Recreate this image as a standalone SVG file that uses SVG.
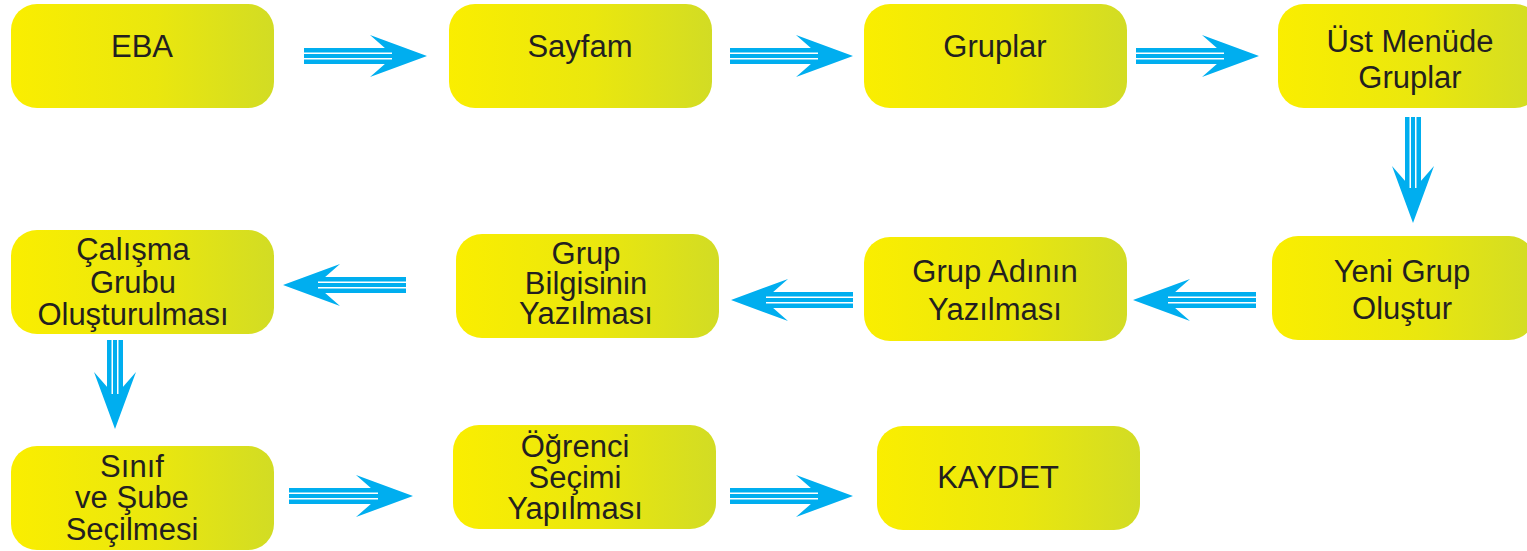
<svg xmlns="http://www.w3.org/2000/svg" xmlns:xlink="http://www.w3.org/1999/xlink" width="1527" height="551" viewBox="0 0 1527 551">
<defs>
<linearGradient id="yg" x1="0" y1="0" x2="1" y2="0">
<stop offset="0" stop-color="#FAEE00"/>
<stop offset="0.55" stop-color="#EAE70E"/>
<stop offset="1" stop-color="#D2DC24"/>
</linearGradient>
<path id="head" d="M0,0 L-57,-21 L-33,0 L-57,21 Z"/>
<style>
.box{fill:url(#yg);}
.t{font-family:"Liberation Sans",Arial,Helvetica,sans-serif;font-size:31px;fill:#231F20;text-anchor:middle;}
.arrow{fill:#00AEEF;}
.gap{stroke:#FFFFFF;stroke-width:1.5;fill:none;}
</style>
</defs>
<rect width="1527" height="551" fill="#FFFFFF"/>

<g id="n-eba"><rect class="box" x="11" y="4" width="263" height="104" rx="26"/><text class="t" x="142" y="57">EBA</text></g>
<g id="n-sayfam"><rect class="box" x="449" y="4" width="263" height="104" rx="26"/><text class="t" x="580" y="57">Sayfam</text></g>
<g id="n-gruplar"><rect class="box" x="864" y="4" width="263" height="104" rx="26"/><text class="t" x="995" y="57">Gruplar</text></g>
<g id="n-ust"><rect class="box" x="1278" y="4" width="263" height="104" rx="26"/><text class="t" x="1410" y="52">Üst Menüde</text><text class="t" x="1410" y="88">Gruplar</text></g>

<g id="n-yeni"><rect class="box" x="1272" y="236" width="263" height="104" rx="26"/><text class="t" x="1402" y="282">Yeni Grup</text><text class="t" x="1402" y="319">Oluştur</text></g>
<g id="n-adi"><rect class="box" x="864" y="237" width="263" height="104" rx="26"/><text class="t" x="995" y="282">Grup Adının</text><text class="t" x="995" y="320">Yazılması</text></g>
<g id="n-bilgi"><rect class="box" x="456" y="234" width="263" height="104" rx="26"/><text class="t" x="586" y="264">Grup</text><text class="t" x="586" y="294">Bilgisinin</text><text class="t" x="586" y="324">Yazılması</text></g>
<g id="n-calisma"><rect class="box" x="11" y="230" width="263" height="104" rx="26"/><text class="t" x="133" y="260">Çalışma</text><text class="t" x="133" y="293">Grubu</text><text class="t" x="133" y="325">Oluşturulması</text></g>

<g id="n-sinif"><rect class="box" x="11" y="446" width="263" height="104" rx="26"/><text class="t" x="132" y="477">Sınıf</text><text class="t" x="132" y="508">ve Şube</text><text class="t" x="132" y="540">Seçilmesi</text></g>
<g id="n-ogrenci"><rect class="box" x="453" y="425" width="263" height="104" rx="26"/><text class="t" x="575" y="457">Öğrenci</text><text class="t" x="575" y="488">Seçimi</text><text class="t" x="575" y="519">Yapılması</text></g>
<g id="n-kaydet"><rect class="box" x="877" y="426" width="263" height="104" rx="26"/><text class="t" x="998" y="488">KAYDET</text></g>

<g id="connectors">
<g class="arrow" transform="translate(427,56)"><rect x="-123" y="-8" width="93" height="16"/><use xlink:href="#head"/><path class="gap" d="M-123,-2.75 H-35 M-123,2.75 H-35"/></g>
<g class="arrow" transform="translate(853,56)"><rect x="-123" y="-8" width="93" height="16"/><use xlink:href="#head"/><path class="gap" d="M-123,-2.75 H-35 M-123,2.75 H-35"/></g>
<g class="arrow" transform="translate(1259,56)"><rect x="-123" y="-8" width="93" height="16"/><use xlink:href="#head"/><path class="gap" d="M-123,-2.75 H-35 M-123,2.75 H-35"/></g>
<g class="arrow" transform="translate(1413,223) rotate(90)"><rect x="-106" y="-8" width="76" height="16"/><use xlink:href="#head"/><path class="gap" d="M-106,-2.75 H-35 M-106,2.75 H-35"/></g>
<g class="arrow" transform="translate(1133,300) rotate(180)"><rect x="-123" y="-8" width="93" height="16"/><use xlink:href="#head"/><path class="gap" d="M-123,-2.75 H-35 M-123,2.75 H-35"/></g>
<g class="arrow" transform="translate(731,300) rotate(180)"><rect x="-122" y="-8" width="92" height="16"/><use xlink:href="#head"/><path class="gap" d="M-122,-2.75 H-35 M-122,2.75 H-35"/></g>
<g class="arrow" transform="translate(283,285) rotate(180)"><rect x="-123" y="-8" width="93" height="16"/><use xlink:href="#head"/><path class="gap" d="M-123,-2.75 H-35 M-123,2.75 H-35"/></g>
<g class="arrow" transform="translate(115,429) rotate(90)"><rect x="-89" y="-8" width="59" height="16"/><use xlink:href="#head"/><path class="gap" d="M-89,-2.75 H-35 M-89,2.75 H-35"/></g>
<g class="arrow" transform="translate(413,496)"><rect x="-124" y="-8" width="94" height="16"/><use xlink:href="#head"/><path class="gap" d="M-124,-2.75 H-35 M-124,2.75 H-35"/></g>
<g class="arrow" transform="translate(853,496)"><rect x="-123" y="-8" width="93" height="16"/><use xlink:href="#head"/><path class="gap" d="M-123,-2.75 H-35 M-123,2.75 H-35"/></g>
</g>
</svg>
